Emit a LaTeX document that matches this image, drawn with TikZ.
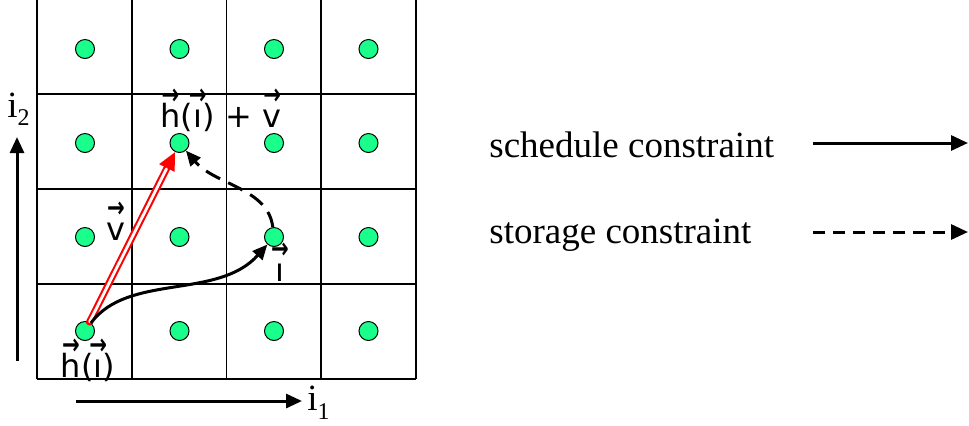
\documentclass[tikz,border=0pt]{standalone}
\usepackage{fontspec}
\usepackage{graphicx}
\setmainfont{Liberation Serif}
\newfontfamily\labfont{DejaVu Sans}
\usetikzlibrary{arrows.meta}
% letter with a small vector arrow above it
\newcommand\ovec[1]{\ooalign{#1\cr\hidewidth\raisebox{0.7em}{\makebox[0pt]{\scalebox{0.66}[0.9]{\bfseries →}}}\hidewidth\cr}}
\definecolor{dotgreen}{RGB}{26,255,140}
\begin{document}
\begin{tikzpicture}[x=0.5pt,y=-0.5pt,
  gridline/.style={line width=0.8pt},
  pt/.style={circle,draw=black,line width=0.5pt,fill=dotgreen,minimum size=9.5pt,inner sep=0pt},
  axis/.style={line width=1.5pt,-{Triangle[length=8pt,width=7pt]}},
  sched/.style={line width=1.5pt,-{Triangle[length=8.5pt,width=7.5pt]}},
  stor/.style={line width=1.5pt,dash pattern=on 6pt off 4pt,-{Triangle[length=8.5pt,width=7.5pt]}},
  curvesched/.style={line width=1.5pt,-{Triangle[length=7.5pt,width=6.5pt]}},
  curvestor/.style={line width=1.5pt,dash pattern=on 8pt off 4.5pt,-{Triangle[length=7.5pt,width=6.5pt]}},
  vlab/.style={font=\labfont\fontsize{16pt}{18pt}\selectfont,inner sep=0pt},
  tlab/.style={font=\fontsize{18.5pt}{22pt}\selectfont,inner sep=0pt}]
\useasboundingbox (0,0) rectangle (969,425);

% grid of cells
\foreach \x in {37,131.75,226.5,321.25,416} \draw[gridline] (\x,0) -- (\x,379);
\foreach \y in {94,189,284,379} \draw[gridline] (37,\y) -- (416,\y);

% lattice points
\foreach \c/\x in {1/85,2/179.5,3/274,4/368.5}
  \foreach \r/\y in {1/49,2/143,3/237,4/331}
    \node[pt] (d\c\r) at (\x,\y) {};

% axes
\coordinate (ax2s) at (17,361);
\coordinate (ax2e) at (17,137);
\coordinate (ax1s) at (76,401);
\coordinate (ax1e) at (302,401);
\draw[axis] (ax2s) -- (ax2e);
\draw[axis] (ax1s) -- (ax1e);
\node[tlab,anchor=base west] (i2) at (7,117) {i\raisebox{-4pt}{\fontsize{12pt}{14pt}\selectfont 2}};
\node[tlab,anchor=base west] (i1) at (307,410) {i\raisebox{-4.5pt}{\fontsize{12pt}{14pt}\selectfont 1}};

% red double vector v
\draw[red,line width=3.5pt,line cap=round,-{Triangle[length=9pt,width=8pt]}] (d14) -- (d22);
\draw[white,line width=1.4pt,line cap=round,shorten >=9.5pt,shorten <=0.2pt] (d14) -- (d22);

% schedule and storage dependences
\draw[curvesched] (d14) .. controls (128,273) and (218,300) .. (d33);
\draw[curvestor] (d33) .. controls (268,188) and (215,185) .. (d22);

% vector labels
\node[vlab,anchor=base west] (lhv) at (160,127) {\ovec{h}(\ovec{ı})\,\,+\,\,\ovec{v}};
\node[vlab,anchor=base west] (lv) at (106,240) {\ovec{v}};
\node[vlab,anchor=base] (li) at (280,281) {\ovec{ı}};
\node[vlab,anchor=base] (lh) at (88,377) {\ovec{h}(\ovec{ı})};

% legend
\node[tlab,anchor=base west] (ls) at (489,157) {schedule constraint};
\node[tlab,anchor=base west] (lt) at (489,243) {storage constraint};
\coordinate (s1) at (813,143);
\coordinate (s2) at (968,143);
\coordinate (t1) at (813,232);
\coordinate (t2) at (968,232);
\draw[sched] (s1) -- (s2);
\draw[stor] (t1) -- (t2);
\end{tikzpicture}
\end{document}
